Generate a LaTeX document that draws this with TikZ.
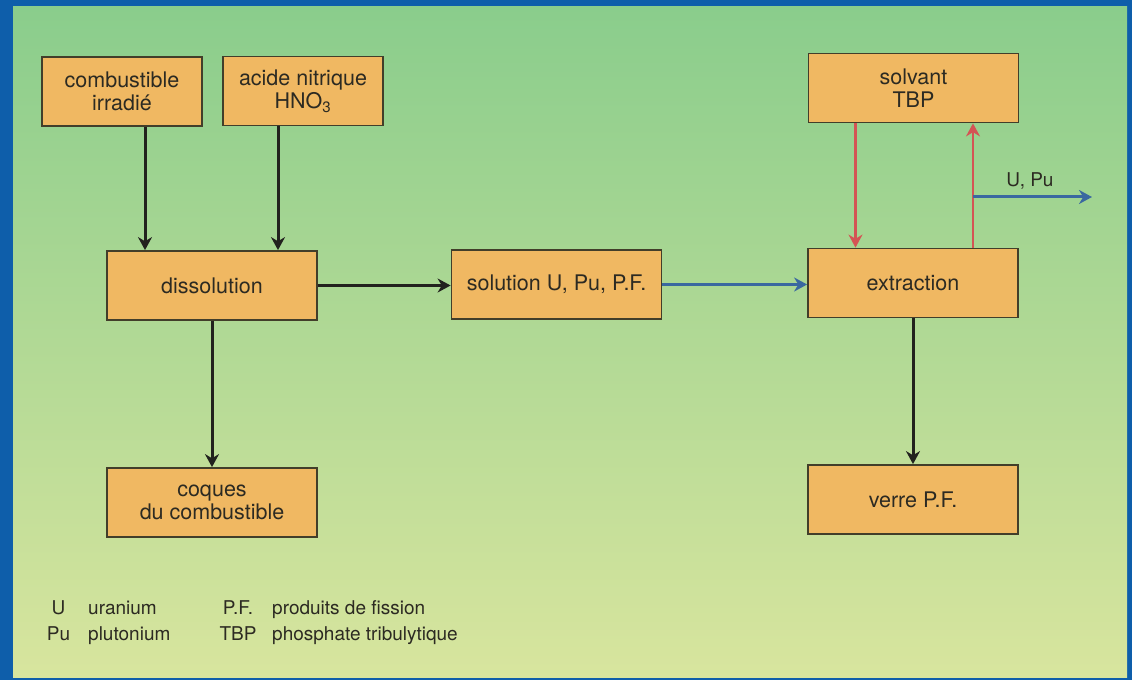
\documentclass[tikz,border=0pt]{standalone}
\usepackage{fontspec}
\setmainfont{TeX Gyre Heros}
\usetikzlibrary{arrows.meta}
\usetikzlibrary{calc}
\definecolor{cadre}{RGB}{14,94,170}
\definecolor{fondhaut}{RGB}{138,205,140}
\definecolor{fondmilieu}{RGB}{170,218,142}
\definecolor{fondbas}{RGB}{216,229,158}
\definecolor{boxfill}{RGB}{240,184,98}
\definecolor{boxline}{RGB}{66,62,42}
\definecolor{texte}{RGB}{44,42,34}
\definecolor{noir}{RGB}{34,34,30}
\definecolor{bleu}{RGB}{58,104,160}
\definecolor{rouge}{RGB}{212,84,84}

\begin{document}
\begin{tikzpicture}[x=1pt, y=1pt,
  box/.style={draw=boxline, line width=1.8pt, fill=boxfill, text=texte, align=center,
    inner sep=0pt, minimum height=69pt, font=\fontsize{21.5}{23.5}\selectfont},
  small/.style={box, minimum width=160pt},
  large/.style={box, minimum width=210pt},
  legende/.style={text=texte, inner sep=0pt, font=\fontsize{19}{22}\selectfont},
  >={Stealth[length=13pt, width=14pt]}]
% cadre et fond
\fill[cadre] (0,0) rectangle (1132,680);
\fill[top color=fondhaut, middle color=fondmilieu, bottom color=fondbas] (13,3) rectangle (1127,673);
\useasboundingbox (0,0) rectangle (1132,680);
% etapes
\node[small] (comb) at (122,588.5) {combustible\\irradié};
\node[small] (acide) at (303,589) {acide nitrique\\HNO\textsubscript{3}};
\node[large] (solv) at (913.5,592) {solvant\\TBP};
\node[large] (dissol) at (212,394.5) {dissolution};
\node[large] (sol) at (556.5,395.5) {solution U, Pu, P.F.};
\node[large] (extr) at (913,397) {extraction};
\node[large] (coques) at (212,177.5) {coques\\du combustible};
\node[large] (verre) at (913,180.5) {verre P.F.};
% fleches
\coordinate (c1) at ([xshift=23pt]comb.south);
\coordinate (c2) at ([xshift=-25pt]acide.south);
\coordinate (r1) at ([xshift=-58pt]solv.south);
\coordinate (r2) at ([xshift=60pt]extr.north);
\coordinate (sortie) at (1092,483);
\draw[->, noir, line width=3pt] (c1) -- (c1 |- dissol.north);
\draw[->, noir, line width=3pt] (c2) -- (c2 |- dissol.north);
\draw[->, noir, line width=3pt] (dissol.east) -- (dissol.east -| sol.west);
\draw[->, bleu, line width=3pt] (sol.east) -- (sol.east -| extr.west);
\draw[->, noir, line width=3pt] (dissol.south) -- (dissol.south |- coques.north);
\draw[->, noir, line width=3pt] (extr.south) -- (extr.south |- verre.north);
\draw[->, rouge, line width=2.4pt] (r1) -- (r1 |- extr.north);
\draw[->, rouge, line width=2.4pt] (r2) -- (r2 |- solv.south);
\draw[->, bleu, line width=3pt] (r2 |- sortie) -- (sortie);
\node[legende, anchor=base] (upu) at (1030,493) {U, Pu};
% legende
\node[legende, anchor=base] (lu) at (58.5,66) {U};
\node[legende, anchor=base west] (lua) at (88,66) {uranium};
\node[legende, anchor=base] (lpu) at (58.5,40) {Pu};
\node[legende, anchor=base west] (lpua) at (88,40) {plutonium};
\node[legende, anchor=base] (lpf) at (238,66) {P.F.};
\node[legende, anchor=base west] (lpfa) at (272,66) {produits de fission};
\node[legende, anchor=base] (ltbp) at (238,40) {TBP};
\node[legende, anchor=base west] (ltbpa) at (272,40) {phosphate tribulytique};
\end{tikzpicture}
\end{document}
